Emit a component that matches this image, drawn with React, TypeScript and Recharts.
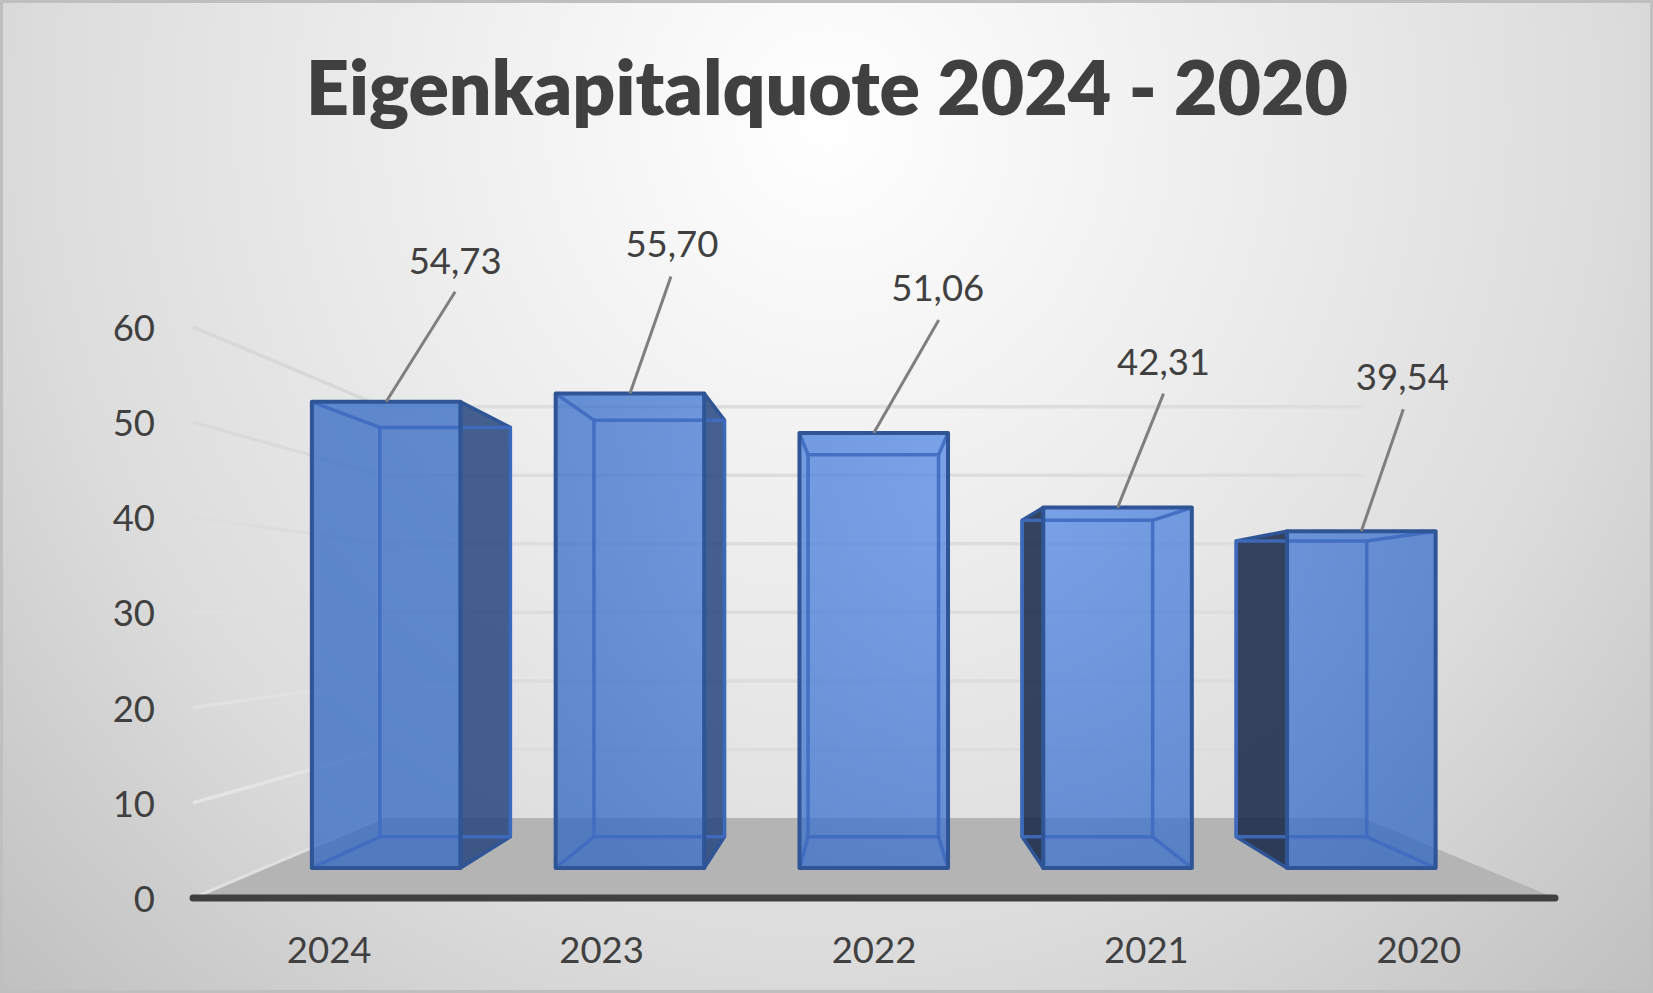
import React from "react";
import { BarChart, Bar, XAxis, YAxis, CartesianGrid, LabelList } from "recharts";

const categories = ["2024", "2023", "2022", "2021", "2020"];
const quota = [54.73, 55.7, 51.06, 42.31, 39.54];
const yTicks = [0, 10, 20, 30, 40, 50, 60];
const chartTitle = "Eigenkapitalquote 2024 - 2020";

const rows = categories.map((year, i) => ({ year, quota: quota[i] }));

const W = 1653;
const H = 993;
const VP = { x: 870, y: 612 };
const S_FRONT = 0.895;
const S_BACK = 0.786;
const S_WALL = 0.72;
const PLOT_BOTTOM = 898;
const LABEL_OFFSET = [
  { tx: 69, ty: -142, lx: 69, ly: -110 },
  { tx: 42, ty: -151, lx: 41, ly: -117 },
  { tx: 64, ty: -146, lx: 65, ly: -113 },
  { tx: 46, ty: -147, lx: 46, ly: -114 },
  { tx: 41, ty: -155, lx: 42, ly: -122 },
];

const FONT = "Lato, Carlito, sans-serif";
const TEXT = "#404040";
const EDGE = "#2f5597";
const INNER = "#3f6cc0";

const proj = (x: number, y: number, s: number) => ({
  x: VP.x + (x - VP.x) * s,
  y: VP.y + (y - VP.y) * s,
});
const pts = (list: { x: number; y: number }[]) => list.map((p) => `${p.x},${p.y}`).join(" ");

function Box(props: any) {
  const { x, y, width, height } = props;
  const X1 = x;
  const X2 = x + width;
  const Yt = y;
  const Yb = y + height;
  const f = {
    tl: proj(X1, Yt, S_FRONT),
    tr: proj(X2, Yt, S_FRONT),
    bl: proj(X1, Yb, S_FRONT),
    br: proj(X2, Yb, S_FRONT),
  };
  const b = {
    tl: proj(X1, Yt, S_BACK),
    tr: proj(X2, Yt, S_BACK),
    bl: proj(X1, Yb, S_BACK),
    br: proj(X2, Yb, S_BACK),
  };
  const rightSide = X2 < VP.x;
  const leftSide = X1 > VP.x;
  return (
    <g strokeLinejoin="round">
      {rightSide && (
        <polygon points={pts([f.tr, b.tr, b.br, f.br])} fill="#27477c" fillOpacity={0.85} stroke={EDGE} strokeWidth={3.5} />
      )}
      {leftSide && (
        <polygon points={pts([f.tl, b.tl, b.bl, f.bl])} fill="#152647" fillOpacity={0.85} stroke={EDGE} strokeWidth={3.5} />
      )}
      <polygon points={pts([f.tl, f.tr, f.br, f.bl])} fill="url(#frontFace)" fillOpacity={0.75} />
      <g stroke={INNER} strokeWidth={3.5} fill="none" strokeOpacity={0.9}>
        <polygon points={pts([b.tl, b.tr, b.br, b.bl])} />
        {!leftSide && <line x1={f.tl.x} y1={f.tl.y} x2={b.tl.x} y2={b.tl.y} />}
        {!leftSide && <line x1={f.bl.x} y1={f.bl.y} x2={b.bl.x} y2={b.bl.y} />}
        {!rightSide && <line x1={f.tr.x} y1={f.tr.y} x2={b.tr.x} y2={b.tr.y} />}
        {!rightSide && <line x1={f.br.x} y1={f.br.y} x2={b.br.x} y2={b.br.y} />}
      </g>
      <polygon points={pts([f.tl, f.tr, f.br, f.bl])} fill="none" stroke={EDGE} strokeWidth={4} />
    </g>
  );
}

function WallLine(props: any) {
  const { x1, y1, x2 } = props;
  const isFloor = Math.abs(y1 - PLOT_BOTTOM) < 1;
  const a = proj(x1, y1, S_WALL);
  const c = proj(x2, y1, S_WALL);
  if (isFloor) {
    return (
      <g>
        <polygon points={pts([{ x: x1, y: y1 }, a, c, { x: x2, y: y1 }])} fill="#b4b4b4" />
        <line x1={x1} y1={y1} x2={a.x} y2={a.y} stroke="#e0e0e0" strokeWidth={3} />
      </g>
    );
  }
  const t = (y1 - 327) / (PLOT_BOTTOM - 327);
  const v = Math.round(216 + t * 14);
  const wall = `rgb(${v},${v},${v})`;
  return (
    <g fill="none" strokeWidth={3.5}>
      <line x1={x1} y1={y1} x2={a.x} y2={a.y} stroke={wall} />
      <line x1={a.x} y1={a.y} x2={c.x} y2={c.y} stroke="#dddddd" />
    </g>
  );
}

function CalloutLabel(props: any) {
  const { x, y, width, value, index } = props;
  const start = proj(x + width / 2, y, S_FRONT);
  const o = LABEL_OFFSET[index];
  return (
    <g>
      <line x1={start.x} y1={start.y} x2={start.x + o.lx} y2={start.y + o.ly} stroke="#7f7f7f" strokeWidth={3} />
      <text x={start.x + o.tx} y={start.y + o.ty} textAnchor="middle" dominantBaseline="central" fontFamily={FONT} fontSize={36.5} fill={TEXT}>
        {Number(value).toFixed(2).replace(".", ",")}
      </text>
    </g>
  );
}

export default function App() {
  return (
    <div
      style={{
        position: "absolute",
        left: 0,
        top: 0,
        width: W,
        height: H,
        boxSizing: "border-box",
        border: "3px solid #bfbfbf",
        background: "radial-gradient(ellipse at 50% 12%, #ffffff 0%, #ececec 38%, #dcdcdc 68%, #c0c0c0 100%)",
      }}
    >
      <div style={{ position: "absolute", left: -3, top: -3 }}>
        <BarChart
          width={W}
          height={H}
          data={rows}
          margin={{ top: 327, right: 98, bottom: 0, left: 0 }}
          barCategoryGap="19.6%"
        >
          <defs>
            <radialGradient id="frontFace" gradientUnits="userSpaceOnUse" cx={1000} cy={480} r={540}>
              <stop offset="0%" stopColor="#558be8" />
              <stop offset="100%" stopColor="#3067c3" />
            </radialGradient>
          </defs>
          <text x={827} y={86} textAnchor="middle" dominantBaseline="central" fontFamily={FONT} fontWeight={800} fontSize={75} fill={TEXT}>
            {chartTitle}
          </text>
          <CartesianGrid vertical={false} horizontal={(p: any) => <WallLine key={p.key} {...p} />} />
          <XAxis
            dataKey="year"
            height={95}
            tickLine={false}
            tickSize={0}
            tickMargin={39}
            axisLine={{ stroke: TEXT, strokeWidth: 7, strokeLinecap: "round" }}
            tick={{ fontFamily: FONT, fontSize: 36.5, fill: TEXT }}
          />
          <YAxis
            width={193}
            domain={[0, 60]}
            ticks={yTicks}
            axisLine={false}
            tickLine={false}
            tickSize={0}
            tickMargin={38}
            tick={{ fontFamily: FONT, fontSize: 36.5, fill: TEXT, dy: 1 }}
          />
          <Bar dataKey="quota" isAnimationActive={false} shape={<Box />}>
            <LabelList dataKey="quota" content={<CalloutLabel />} />
          </Bar>
        </BarChart>
      </div>
    </div>
  );
}
